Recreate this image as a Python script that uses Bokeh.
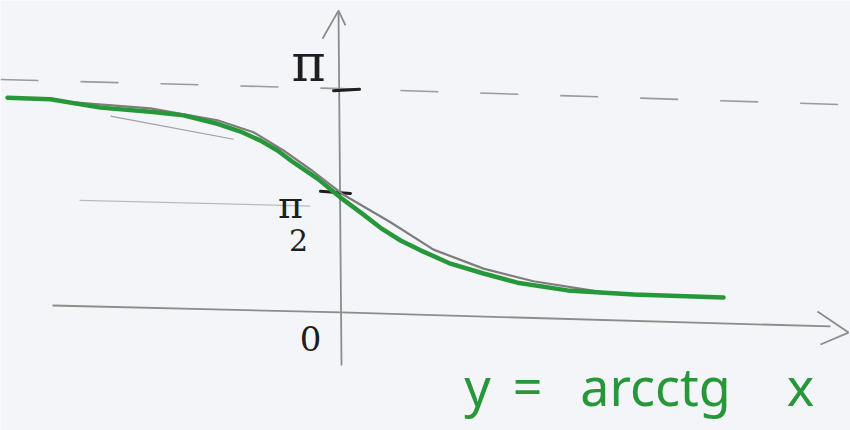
from bokeh.plotting import figure
from bokeh.models import Range1d
from bokeh.core.properties import value
from bokeh.embed import file_html
from bokeh.resources import INLINE

# Sketch of y = arcctg x: green curve (ink) over a pencil curve, pencil axes,
# dashed asymptote y = pi, hand-placed tick marks and labels.

# ink curve (x, y) points
curve_x = [-6.68, -5.82, -4.82, -3.82, -3.16, -2.48, -2.02, -1.62, -1.28,
           -0.96, -0.48, -0.02, 0.38, 0.78, 1.18, 1.58, 2.18, 2.84, 3.52,
           4.52, 5.84, 7.64]
curve_y = [3.04, 3.02, 2.90, 2.84, 2.79, 2.67, 2.56, 2.43, 2.29,
           2.12, 1.89, 1.62, 1.41, 1.19, 1.01, 0.87, 0.68, 0.54, 0.41,
           0.30, 0.24, 0.20]

# pencil curve underneath
pencil_x = [-5.62, -3.82, -2.48, -1.76, -1.16, -0.62, 0.04, 0.98, 1.84,
            2.84, 3.84, 5.18, 6.84]
pencil_y = [2.99, 2.89, 2.72, 2.55, 2.29, 2.02, 1.66, 1.27, 0.88,
            0.61, 0.43, 0.28, 0.21]

# extra pencil stroke under the left branch
stroke_x = [-4.62, -2.16]
stroke_y = [2.78, 2.45]

# pencil axes
xaxis_x = [-5.78, 0.0, 9.78]
xaxis_y = [0.085, -0.014, -0.213]
xarrow_x = [9.52, 10.14, 9.58]
xarrow_y = [0.00, -0.30, -0.47]
yaxis_x = [0.0, -0.06]
yaxis_y = [-0.77, 4.28]
yarrow_x = [-0.38, -0.06, 0.08]
yarrow_y = [3.88, 4.28, 4.07]

# asymptote y = pi
asym_x = [-6.82, 0.0, 10.18]
asym_y = [3.30, 3.17, 2.94]

# faint guide line on the left at the pi/2 level
guide_x = [-5.24, -0.62]
guide_y = [1.58, 1.50]

# tick marks (pi and pi/2)
tick_x0 = [-0.16, -0.42]
tick_x1 = [0.36, 0.18]
tick_y0 = [3.14, 1.71]
tick_y1 = [3.16, 1.68]

# tick labels
label_text = ["π", "π", "2", "0"]
label_x = [-0.66, -1.02, -0.86, -0.62]
label_y = [3.54, 1.52, 1.02, -0.38]
label_size = ["52px", "38px", "30px", "34px"]

# equation, one word at a time
title_words = ["y", "=", "arcctg", "x"]
title_x = [2.72, 3.72, 6.28, 9.18]

PAPER = "#f4f5f8"
PENCIL = "#8c8c8c"
INK = "#27983a"

p = figure(width=850, height=430, output_backend="svg", toolbar_location=None,
           x_range=Range1d(-6.82, 10.18), y_range=Range1d(-1.693, 4.424),
           min_border=0, min_border_left=0, min_border_right=0,
           min_border_top=0, min_border_bottom=0)
p.axis.visible = False
p.xgrid.visible = False
p.ygrid.visible = False
p.outline_line_color = None
p.background_fill_color = PAPER
p.border_fill_color = PAPER

# faint guide and asymptote
p.line(guide_x, guide_y, line_color="#b9bbc0", line_width=1.2)
p.line(asym_x, asym_y, line_color="#9a9a9a", line_width=1.6, line_dash="38 42")

# axes
p.line(xaxis_x, xaxis_y, line_color=PENCIL, line_width=1.8)
p.line(xarrow_x, xarrow_y, line_color=PENCIL, line_width=1.8)
p.line(yaxis_x, yaxis_y, line_color=PENCIL, line_width=1.8)
p.line(yarrow_x, yarrow_y, line_color=PENCIL, line_width=1.8)

# ticks
p.segment(x0=tick_x0, y0=tick_y0, x1=tick_x1, y1=tick_y1,
          line_color="#1e1e1e", line_width=3, line_cap="round")

# curves
p.line(stroke_x, stroke_y, line_color="#a0a0a0", line_width=1.2)
p.line(pencil_x, pencil_y, line_color="#7d7d7d", line_width=2.2,
       line_join="round")
p.line(curve_x, curve_y, line_color=INK, line_width=4.5,
       line_join="round", line_cap="round")

# labels
for t, x, y, s in zip(label_text, label_x, label_y, label_size):
    p.text(x=[x], y=[y], text=[t], text_font=value("DejaVu Serif"),
           text_font_size=s, text_color="#1e1e1e",
           text_align="center", text_baseline="middle")

p.text(x=title_x, y=[-1.05] * len(title_x), text=title_words,
       text_font=value("Noto Sans"), text_font_size="52px", text_color=INK,
       text_align="center", text_baseline="alphabetic")

open("out.html", "w").write(file_html(p, INLINE))
